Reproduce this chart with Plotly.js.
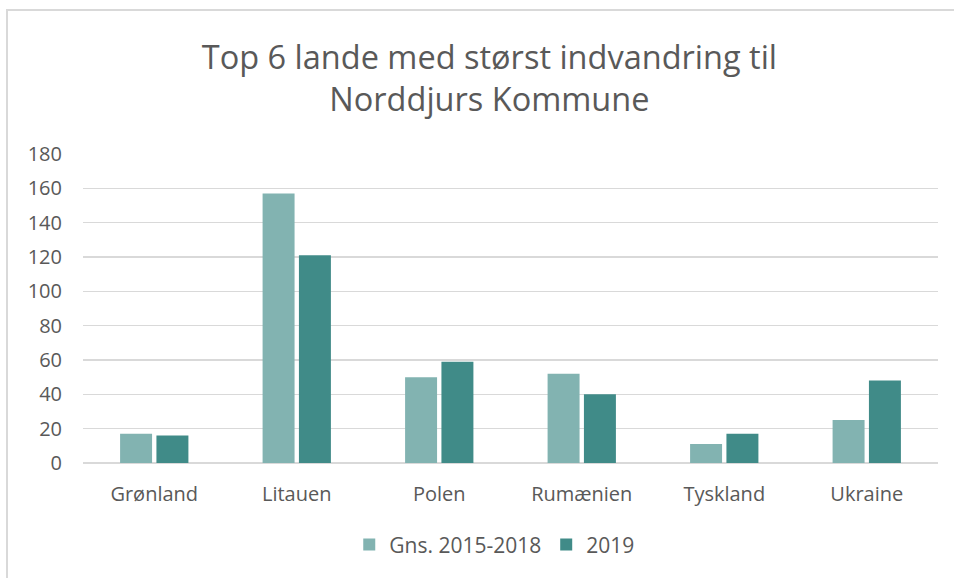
<!DOCTYPE html>
<html>
<head>
<meta charset="utf-8">
<script src="https://cdn.plot.ly/plotly-3.0.1.min.js"></script>
<style>
  html, body { margin: 0; padding: 0; background: #fff; width: 954px; height: 578px; overflow: hidden; }
  #frame { position: absolute; left: 6px; top: 9px; width: 1200px; height: 1000px; border-left: 2px solid #d9d9d9; border-top: 2px solid #d9d9d9; pointer-events: none; }
  #chart { position: absolute; left: 0; top: 0; width: 954px; height: 578px; }
</style>
</head>
<body>
<div id="frame"></div>
<div id="chart"></div>
<script>
const categories = ["Grønland", "Litauen", "Polen", "Rumænien", "Tyskland", "Ukraine"];
const seriesNames = ["Gns. 2015-2018", "2019"];
const avg2015_2018 = [17, 157, 50, 52, 11, 25];
const values2019 = [16, 121, 59, 40, 17, 48];
const yTicks = [0, 20, 40, 60, 80, 100, 120, 140, 160, 180];
const titleText = "Top 6 lande med størst indvandring til<br>Norddjurs Kommune";

const textColor = "#595959";
const fontFam = "'Open Sans', sans-serif";

const traces = [
  { type: "bar", name: seriesNames[0], x: categories, y: avg2015_2018,
    marker: { color: "#82b3b1", line: { width: 0 } } },
  { type: "bar", name: seriesNames[1], x: categories, y: values2019,
    marker: { color: "#408b88", line: { width: 0 } } }
];

const layout = {
  width: 954, height: 578,
  paper_bgcolor: "rgba(0,0,0,0)", plot_bgcolor: "rgba(0,0,0,0)",
  margin: { l: 83, r: 16, t: 154, b: 115 },
  font: { family: fontFam, color: textColor, size: 20 },
  title: { text: titleText, x: 0.513, xanchor: "center", y: 0.881, yanchor: "middle",
           font: { family: fontFam, size: 32.5, color: textColor } },
  barmode: "group", bargap: 0.49, bargroupgap: 0.12,
  xaxis: { type: "category", showgrid: false, zeroline: false, showline: false,
           ticks: "", ticklabelstandoff: 17, tickfont: { size: 20, color: textColor } },
  yaxis: { range: [0, 180], tickvals: yTicks, showgrid: true, gridcolor: "#d9d9d9", gridwidth: 1.3,
           zeroline: true, zerolinecolor: "#d9d9d9", zerolinewidth: 1.3, showline: false,
           ticks: "", ticklabelstandoff: 20, tickfont: { size: 20, color: textColor } },
  legend: { orientation: "h", x: 0.481, xanchor: "center", y: -0.265, yanchor: "middle",
            font: { size: 21, color: textColor }, itemwidth: 30, traceorder: "normal" },
  showlegend: true
};

Plotly.newPlot("chart", traces, layout, { displayModeBar: false, staticPlot: true });
</script>
</body>
</html>
